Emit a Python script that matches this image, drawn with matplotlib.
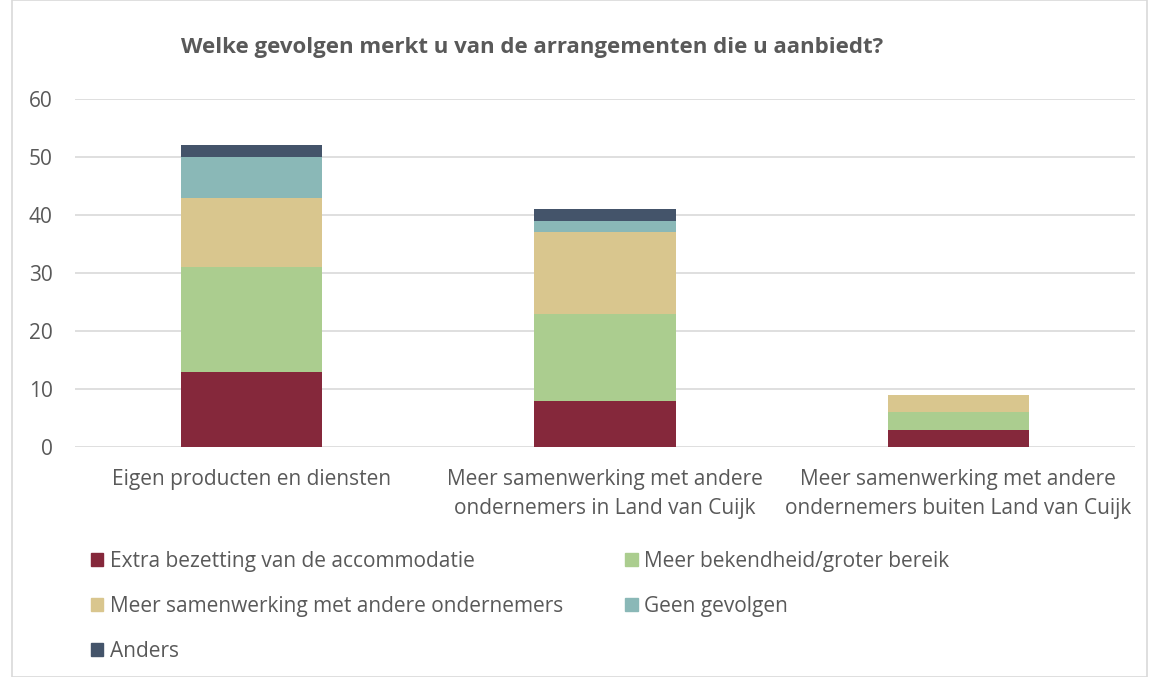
import matplotlib.pyplot as plt
from matplotlib.patches import Patch, Rectangle

plt.rcParams['font.family'] = ['Open Sans', 'DejaVu Sans']

# categories on the x axis
categories = ["Eigen producten en diensten",
              "Meer samenwerking met andere\nondernemers in Land van Cuijk",
              "Meer samenwerking met andere\nondernemers buiten Land van Cuijk"]

# stacked series (bottom to top)
series_names = ["Extra bezetting van de accommodatie",
                "Meer bekendheid/groter bereik",
                "Meer samenwerking met andere ondernemers",
                "Geen gevolgen",
                "Anders"]
extra_bezetting = [13, 8, 3]
bekendheid = [18, 15, 3]
samenwerking = [12, 14, 3]
geen_gevolgen = [7, 2, 0]
anders = [2, 2, 0]
series_values = [extra_bezetting, bekendheid, samenwerking, geen_gevolgen, anders]
colors = ["#85283B", "#ABCD8F", "#D9C68E", "#8AB8B7", "#44546A"]

text_color = "#595959"

fig = plt.figure(figsize=(11.51, 6.77), dpi=100)
ax = fig.add_axes([75 / 1151, 1 - 447 / 677, 1060 / 1151, 348 / 677])

x = list(range(len(categories)))
bottom = [0] * len(categories)
for name, vals, col in zip(series_names, series_values, colors):
    ax.bar(x, vals, bottom=bottom, width=0.4, color=col, label=name, zorder=3)
    bottom = [b + v for b, v in zip(bottom, vals)]

ax.set_xlim(-0.5, len(categories) - 0.5)
ax.set_ylim(0, 60)
ax.set_yticks(range(0, 61, 10))
ax.grid(axis='y', color="#D9D9D9", linewidth=1.2, zorder=0)
for s in ax.spines.values():
    s.set_visible(False)
ax.tick_params(length=0, colors=text_color, labelsize=15)
ax.tick_params(axis='y', pad=16)
ax.tick_params(axis='x', pad=16)
ax.set_xticks(x)
ax.set_xticklabels(categories, linespacing=1.5)

fig.text(532 / 1151, 1 - 47 / 677, "Welke gevolgen merkt u van de arrangementen die u aanbiedt?",
         ha='center', va='center', fontsize=16, fontweight='bold', color=text_color)

# legend laid out row-wise in two columns
handles = [Patch(color=c) for c in colors]
order = [0, 2, 4, 1, 3]
leg = fig.legend([handles[i] for i in order], [series_names[i] for i in order],
                 ncol=2, loc='upper left', bbox_to_anchor=(72 / 1151, 1 - 532 / 677),
                 frameon=False, fontsize=15, labelcolor=text_color,
                 handlelength=0.6, handleheight=0.6, handletextpad=0.3,
                 columnspacing=3.0, labelspacing=1.15)

# outer chart frame
fig.patches.append(Rectangle((12 / 1151, 0), 1 - 16 / 1151, 1, transform=fig.transFigure,
                             fill=False, edgecolor="#D9D9D9", linewidth=1.2))

fig.savefig("out.png", dpi=100)
